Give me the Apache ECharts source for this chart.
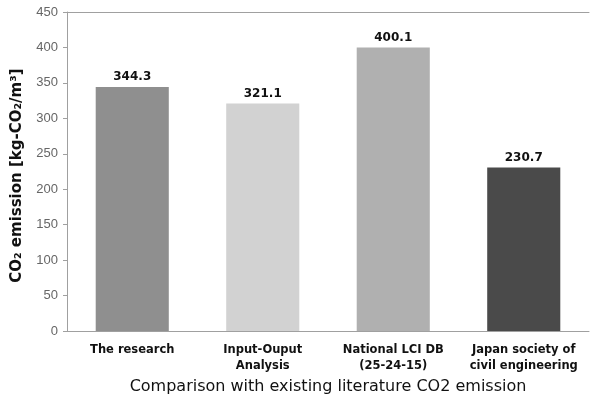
<!DOCTYPE html>
<html><head><meta charset="utf-8">
<script src="https://cdn.jsdelivr.net/npm/echarts@6/dist/echarts.min.js"></script>
<style>html,body{margin:0;padding:0;background:#fff}#c{width:597px;height:400px}</style>
</head><body><div id="c"></div>
<script>
const categories = ['The research', 'Input-Ouput\nAnalysis', 'National LCI DB\n(25-24-15)', 'Japan society of\ncivil engineering'];
const values = [344.3, 321.1, 400.1, 230.7];
const barColors = ['#8f8f8f', '#d2d2d2', '#b0b0b0', '#4a4a4a'];
const yTicks = {min: 0, max: 450, interval: 50};

const chart = echarts.init(document.getElementById('c'));
chart.setOption({
  animation: false,
  grid: {left: 67, right: 8, top: 12, bottom: 66},
  xAxis: [{
    type: 'category', data: categories,
    axisLine: {lineStyle: {color: '#a0a0a0', width: 1}},
    axisTick: {show: false},
    axisLabel: {color: '#111', fontWeight: 'bold', fontSize: 11.5, fontFamily: 'DejaVu Sans', lineHeight: 16, margin: 11, interval: 0},
    name: 'Comparison with existing literature CO2 emission',
    nameLocation: 'middle', nameGap: 44,
    nameTextStyle: {color: '#111', fontSize: 16, fontFamily: 'DejaVu Sans'}
  }, {
    type: 'category', data: categories, position: 'top',
    axisLine: {show: true, lineStyle: {color: '#a0a0a0', width: 1}},
    axisTick: {show: false}, axisLabel: {show: false}
  }],
  yAxis: {
    type: 'value', min: yTicks.min, max: yTicks.max, interval: yTicks.interval,
    axisLine: {show: true, lineStyle: {color: '#a0a0a0'}},
    axisTick: {show: true, length: 4, lineStyle: {color: '#a0a0a0'}},
    splitLine: {show: false},
    axisLabel: {color: '#666', fontSize: 13, fontFamily: 'Liberation Sans', margin: 9},
    name: 'CO₂ emission [kg-CO₂/m³]',
    nameLocation: 'middle', nameGap: 42,
    nameTextStyle: {color: '#111', fontSize: 15, fontWeight: 'bold', fontFamily: 'DejaVu Sans', padding: [0, 8, 0, 0]}
  },
  series: [{
    type: 'bar', barWidth: '56%',
    data: values.map((v, i) => ({value: v, itemStyle: {color: barColors[i]}})),
    label: {show: true, position: 'top', distance: 4, color: '#111', fontWeight: 'bold', fontSize: 12, fontFamily: 'DejaVu Sans'}
  }]
});
</script></body></html>
